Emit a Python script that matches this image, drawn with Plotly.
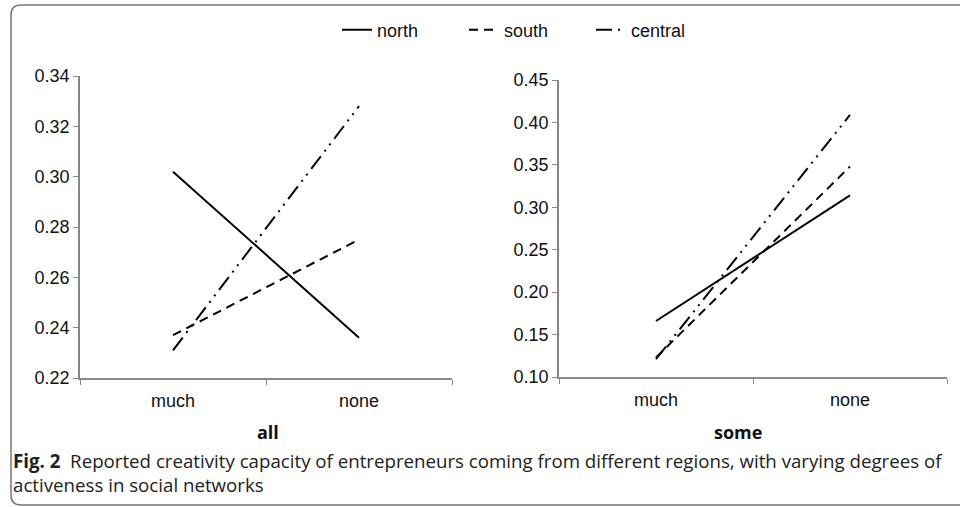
import plotly.graph_objects as go

categories = ["much", "none"]
series_names = ["north", "south", "central"]
all_values = {
    "north": [0.302, 0.236],
    "south": [0.237, 0.275],
    "central": [0.231, 0.328],
}
some_values = {
    "north": [0.166, 0.314],
    "south": [0.123, 0.348],
    "central": [0.121, 0.409],
}
left_ticks = [0.22, 0.24, 0.26, 0.28, 0.30, 0.32, 0.34]
right_ticks = [0.10, 0.15, 0.20, 0.25, 0.30, 0.35, 0.40, 0.45]
panel_titles = ["all", "some"]
caption_bold = "Fig. 2"
caption_text = ("Reported creativity capacity of entrepreneurs coming from different regions, "
                "with varying degrees of<br>activeness in social networks")

dashes = {
    "north": "solid",
    "south": "9px,6px",
    "central": "16px,6px,2px,6px,2px,6px",
}

W, H = 960, 507
fig = go.Figure()

for name in series_names:
    fig.add_trace(go.Scatter(x=categories, y=all_values[name], mode="lines", name=name,
                             line=dict(color="black", width=2, dash=dashes[name]),
                             xaxis="x", yaxis="y", showlegend=True))
    fig.add_trace(go.Scatter(x=categories, y=some_values[name], mode="lines", name=name,
                             line=dict(color="black", width=2, dash=dashes[name]),
                             xaxis="x2", yaxis="y2", showlegend=False))

def px(v):
    return v / W

def py(v):
    return (H - v) / H

axis_font = dict(family="Liberation Sans, Arial", size=18, color="#111")
common_x = dict(type="category", tickson="boundaries", ticks="outside", ticklen=5,
                tickcolor="#888", showline=True, linecolor="#888", linewidth=1.5,
                showgrid=False, zeroline=False, tickfont=axis_font, fixedrange=True,
                ticklabelstandoff=6)
common_y = dict(ticks="outside", ticklen=5, tickcolor="#888", showline=True,
                linecolor="#888", linewidth=1.5, showgrid=False, zeroline=False,
                tickfont=axis_font, tickformat=".2f", fixedrange=True)

fig.update_layout(
    width=W, height=H,
    margin=dict(l=0, r=0, t=0, b=0, pad=0, autoexpand=False),
    paper_bgcolor="white", plot_bgcolor="white",
    showlegend=True,
    legend=dict(orientation="h", x=px(337), xanchor="left", y=py(30), yanchor="middle",
                font=dict(family="Liberation Sans, Arial", size=18, color="#111"),
                entrywidth=82, entrywidthmode="pixels", bgcolor="rgba(0,0,0,0)"),
    xaxis=dict(domain=[px(80), px(452)], anchor="y", range=[-0.5, 1.5], **common_x),
    yaxis=dict(domain=[py(378), py(76)], anchor="x", range=[0.22, 0.34],
               tickvals=left_ticks, **common_y),
    xaxis2=dict(domain=[px(559), px(947)], anchor="y2", range=[-0.5, 1.5], **common_x),
    yaxis2=dict(domain=[py(377), py(80)], anchor="x2", range=[0.10, 0.45],
                tickvals=right_ticks, **common_y),
)

# panel titles
fig.add_annotation(text="<b>%s</b>" % panel_titles[0], x=px(268), y=py(432),
                   xref="paper", yref="paper", showarrow=False, xanchor="center", yanchor="middle",
                   font=dict(family="Open Sans", size=18, color="#111"))
fig.add_annotation(text="<b>%s</b>" % panel_titles[1], x=px(738), y=py(432),
                   xref="paper", yref="paper", showarrow=False, xanchor="center", yanchor="middle",
                   font=dict(family="Open Sans", size=18, color="#111"))

# caption
fig.add_annotation(text="<b>%s</b>  %s" % (caption_bold, caption_text),
                   x=px(11), y=py(446), xref="paper", yref="paper", showarrow=False,
                   xanchor="left", yanchor="top", align="left",
                   font=dict(family="Open Sans", size=18.7, color="#222"))

# rounded frame
L, T, B, R = px(11), py(5), py(505), px(975)
rx, ry = 10 / W, 10 / H
path = (f"M {R},{T} L {L+rx},{T} Q {L},{T} {L},{T-ry} "
        f"L {L},{B+ry} Q {L},{B} {L+rx},{B} L {R},{B}")
fig.add_shape(type="path", path=path, xref="paper", yref="paper",
              line=dict(color="#777", width=1.5))

fig.write_html("out.html", config={"displayModeBar": False},
               post_script="document.body.style.margin='0';document.body.style.overflow='hidden';")
